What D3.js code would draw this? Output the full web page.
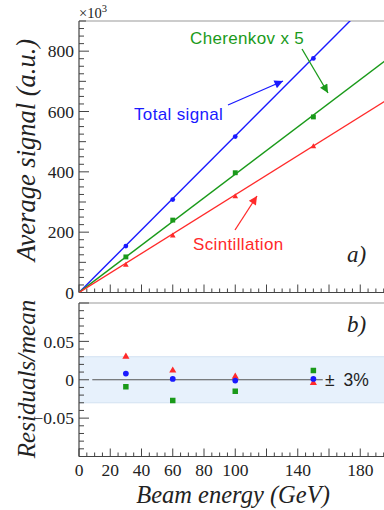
<!DOCTYPE html>
<html>
<head>
<meta charset="utf-8">
<script src="https://cdn.jsdelivr.net/npm/d3@7"></script>
<style>
  html, body { margin: 0; padding: 0; background: #fff; }
  svg { display: block; }
</style>
</head>
<body>
<svg id="chart" width="384" height="510"></svg>
<script>
// Beam energies (GeV) at which the calorimeter was measured
const energies = [30, 60, 100, 150];

// Average signals (units of 10^3 a.u.)
const totalSignal   = [154, 308, 517, 776];
const cherenkovX5   = [118, 240, 397, 582];
const scintillation = [91, 188, 318, 484];

// Linear fits through the origin, given by their end points
const fitEnergy        = [0, 200];
const fitTotal         = [0, 1038];
const fitCherenkov     = [0, 784];
const fitScintillation = [0, 648];

// Residuals of the measurements divided by the mean
const resTotal         = [0.008, 0.001, -0.001, 0.001];
const resCherenkov     = [-0.009, -0.027, -0.015, 0.012];
const resScintillation = [0.030, 0.012, 0.004, -0.004];

// Tolerance band and reference line
const bandLimits   = [-0.03, 0.03];
const zeroLineSpan = [8.5, 156];

// Axis tick labels
const xTickLabels   = [0, 20, 40, 60, 80, 100, 140, 180];
const yTickLabels   = [0, 200, 400, 600, 800];
const resTickLabels = [-0.05, 0, 0.05];

const svg = d3.select("#chart");
const serif = "'Liberation Serif', 'Times New Roman', serif";
const sans = "'Liberation Sans', Arial, sans-serif";
const axisColor = "#444";
const frameColor = "#9a9a9a";

const x = d3.scaleLinear().domain([0, 200]).range([79, 391.5]);
const yTop = d3.scaleLinear().domain([0, 900]).range([292.5, 21]);
const yRes = d3.scaleLinear().domain([-0.1, 0.1]).range([456.5, 303]);

const colors = { total: "#1a1aff", cher: "#1a9a1a", scint: "#ff2a2a" };

// ---------- clip paths and arrow heads ----------
const defs = svg.append("defs");
defs.append("clipPath").attr("id", "clipTop").append("rect")
  .attr("x", x(0)).attr("y", yTop(900)).attr("width", x(200) - x(0)).attr("height", yTop(0) - yTop(900));
defs.append("clipPath").attr("id", "clipRes").append("rect")
  .attr("x", x(0)).attr("y", yRes(0.1)).attr("width", x(200) - x(0)).attr("height", yRes(-0.1) - yRes(0.1));

["total", "cher", "scint"].forEach(k => {
  defs.append("marker").attr("id", "arrow-" + k)
    .attr("viewBox", "0 0 10 10").attr("refX", 10).attr("refY", 5)
    .attr("markerWidth", 13).attr("markerHeight", 8.5).attr("markerUnits", "userSpaceOnUse")
    .attr("orient", "auto")
    .append("path").attr("d", "M0,0 L10,5 L0,10 Z").attr("fill", colors[k]);
});

// ---------- helpers for ticks ----------
function xTicks(g, yPos, dir) {
  const t = d3.range(0, 201, 5);
  g.selectAll(null).data(t).join("line")
    .attr("x1", d => x(d)).attr("x2", d => x(d))
    .attr("y1", yPos).attr("y2", d => yPos + dir * (d % 20 === 0 ? 8 : 4))
    .attr("stroke", axisColor).attr("stroke-width", 1);
}

// ---------- upper panel: signals ----------
const topG = svg.append("g");
topG.append("line").attr("x1", x(0)).attr("x2", x(200)).attr("y1", yTop(900)).attr("y2", yTop(900))
  .attr("stroke", frameColor).attr("stroke-width", 1.2);
topG.append("line").attr("x1", x(0)).attr("x2", x(0)).attr("y1", yTop(900)).attr("y2", yTop(0))
  .attr("stroke", axisColor).attr("stroke-width", 1.2);
topG.append("line").attr("x1", x(0)).attr("x2", x(200)).attr("y1", yTop(0)).attr("y2", yTop(0))
  .attr("stroke", axisColor).attr("stroke-width", 1.2);

topG.selectAll(null).data(d3.range(0, 901, 25)).join("line")
  .attr("x1", x(0)).attr("x2", d => x(0) + (d % 200 === 0 ? 10 : (d % 100 === 0 ? 7 : 5)))
  .attr("y1", d => yTop(d)).attr("y2", d => yTop(d))
  .attr("stroke", axisColor).attr("stroke-width", 1);
topG.selectAll(null).data(yTickLabels).join("text")
  .attr("x", 74).attr("y", d => yTop(d)).attr("dy", "0.35em")
  .attr("text-anchor", "end").attr("font-family", serif).attr("font-size", 17.5)
  .attr("fill", "#222").text(d => d);
xTicks(topG, yTop(0), -1);

const mult = topG.append("text").attr("x", 79).attr("y", 18)
  .attr("font-family", serif).attr("font-size", 14.5).attr("fill", "#222");
mult.append("tspan").text("×10");
mult.append("tspan").attr("dy", -6).attr("font-size", 10.5).text("3");

// fit lines
const lineTop = d3.line().x(d => x(d[0])).y(d => yTop(d[1]));
const fits = [
  [fitTotal, colors.total],
  [fitCherenkov, colors.cher],
  [fitScintillation, colors.scint]
];
const fitG = topG.append("g").attr("clip-path", "url(#clipTop)");
fits.forEach(([vals, c]) => {
  fitG.append("path").datum(fitEnergy.map((e, i) => [e, vals[i]]))
    .attr("d", lineTop).attr("fill", "none").attr("stroke", c).attr("stroke-width", 1.4);
});

// measured points
const circle = d3.symbol().type(d3.symbolCircle);
const square = d3.symbol().type(d3.symbolSquare);
const triangle = d3.symbol().type(d3.symbolTriangle);
topG.selectAll(null).data(energies.map((e, i) => [e, totalSignal[i]])).join("path")
  .attr("transform", d => `translate(${x(d[0])},${yTop(d[1])})`)
  .attr("d", circle.size(18)).attr("fill", colors.total);
topG.selectAll(null).data(energies.map((e, i) => [e, cherenkovX5[i]])).join("path")
  .attr("transform", d => `translate(${x(d[0])},${yTop(d[1])})`)
  .attr("d", square.size(24)).attr("fill", colors.cher);
topG.selectAll(null).data(energies.map((e, i) => [e, scintillation[i]])).join("path")
  .attr("transform", d => `translate(${x(d[0])},${yTop(d[1])})`)
  .attr("d", triangle.size(14)).attr("fill", colors.scint);

// annotation arrows and labels
function arrow(x1, y1, x2, y2, k) {
  topG.append("line").attr("x1", x1).attr("y1", y1).attr("x2", x2).attr("y2", y2)
    .attr("stroke", colors[k]).attr("stroke-width", 1.3)
    .attr("marker-end", `url(#arrow-${k})`);
}
arrow(228, 105, 283, 81, "total");
arrow(302, 49, 328, 93, "cher");
arrow(235, 230, 257, 196, "scint");

const labelStyle = sel => sel.attr("font-family", sans).attr("font-size", 17)
  .attr("letter-spacing", 0.35);
topG.append("text").attr("x", 134).attr("y", 120).call(labelStyle)
  .attr("fill", colors.total).text("Total signal");
topG.append("text").attr("x", 190).attr("y", 44).call(labelStyle)
  .attr("fill", colors.cher).text("Cherenkov x 5");
topG.append("text").attr("x", 193).attr("y", 250).call(labelStyle)
  .attr("fill", colors.scint).text("Scintillation");
topG.append("text").attr("x", 347).attr("y", 262).attr("font-family", serif)
  .attr("font-style", "italic").attr("font-size", 23).attr("fill", "#222").text("a)");

topG.append("text").attr("transform", `translate(35,150) rotate(-90)`)
  .attr("text-anchor", "middle").attr("font-family", serif).attr("font-style", "italic")
  .attr("font-size", 26.5).attr("fill", "#222").text("Average signal (a.u.)");

// ---------- lower panel: residuals ----------
const botG = svg.append("g");
botG.append("rect").attr("clip-path", "url(#clipRes)")
  .attr("x", x(0)).attr("width", x(200) - x(0))
  .attr("y", yRes(bandLimits[1])).attr("height", yRes(bandLimits[0]) - yRes(bandLimits[1]))
  .attr("fill", "#e7f1fc").attr("stroke", "#d3e2f2").attr("stroke-width", 1);

botG.append("line").attr("x1", x(0)).attr("x2", x(200)).attr("y1", yRes(0.1)).attr("y2", yRes(0.1))
  .attr("stroke", frameColor).attr("stroke-width", 1.2);
botG.append("line").attr("x1", x(0)).attr("x2", x(0)).attr("y1", yRes(0.1)).attr("y2", yRes(-0.1))
  .attr("stroke", axisColor).attr("stroke-width", 1.2);
botG.append("line").attr("x1", x(0)).attr("x2", x(200)).attr("y1", yRes(-0.1)).attr("y2", yRes(-0.1))
  .attr("stroke", axisColor).attr("stroke-width", 1.2);

botG.selectAll(null).data(d3.range(-10, 11, 1)).join("line")
  .attr("x1", x(0)).attr("x2", d => x(0) + (d % 5 === 0 ? 10 : 5))
  .attr("y1", d => yRes(d / 100)).attr("y2", d => yRes(d / 100))
  .attr("stroke", axisColor).attr("stroke-width", 1);
botG.selectAll(null).data(resTickLabels).join("text")
  .attr("x", 74).attr("y", d => yRes(d)).attr("dy", "0.35em")
  .attr("text-anchor", "end").attr("font-family", serif).attr("font-size", 17.5)
  .attr("fill", "#222").text(d => d === 0 ? "0" : d3.format(".2f")(d));
xTicks(botG, yRes(-0.1), -1);
botG.selectAll(null).data(xTickLabels).join("text")
  .attr("x", d => x(d)).attr("y", 476).attr("text-anchor", "middle")
  .attr("font-family", serif).attr("font-size", 17.5).attr("fill", "#222").text(d => d);

botG.append("line").attr("x1", x(zeroLineSpan[0])).attr("x2", x(zeroLineSpan[1]))
  .attr("y1", yRes(0)).attr("y2", yRes(0)).attr("stroke", "#555").attr("stroke-width", 1.2);

const resG = botG.append("g").attr("clip-path", "url(#clipRes)");
resG.selectAll(null).data(energies.map((e, i) => [e, resCherenkov[i]])).join("path")
  .attr("transform", d => `translate(${x(d[0])},${yRes(d[1])})`)
  .attr("d", square.size(30)).attr("fill", colors.cher);
resG.selectAll(null).data(energies.map((e, i) => [e, resScintillation[i]])).join("path")
  .attr("transform", d => `translate(${x(d[0])},${yRes(d[1])})`)
  .attr("d", triangle.size(22)).attr("fill", colors.scint);
resG.selectAll(null).data(energies.map((e, i) => [e, resTotal[i]])).join("path")
  .attr("transform", d => `translate(${x(d[0])},${yRes(d[1])})`)
  .attr("d", circle.size(26)).attr("fill", colors.total);

const band = botG.append("text").attr("x", 325).attr("y", yRes(0)).attr("dy", "0.36em")
  .attr("font-family", sans).attr("font-size", 17.5).attr("fill", "#222");
band.append("tspan").text("±");
band.append("tspan").attr("dx", 9).text("3%");
botG.append("text").attr("x", 347).attr("y", 332).attr("font-family", serif)
  .attr("font-style", "italic").attr("font-size", 23).attr("fill", "#222").text("b)");

botG.append("text").attr("transform", `translate(35,379) rotate(-90)`)
  .attr("text-anchor", "middle").attr("font-family", serif).attr("font-style", "italic")
  .attr("font-size", 25).attr("fill", "#222").text("Residuals/mean");

svg.append("text").attr("x", 233).attr("y", 503).attr("text-anchor", "middle")
  .attr("font-family", serif).attr("font-style", "italic").attr("font-size", 24.5)
  .attr("fill", "#222").text("Beam energy (GeV)");
</script>
</body>
</html>
